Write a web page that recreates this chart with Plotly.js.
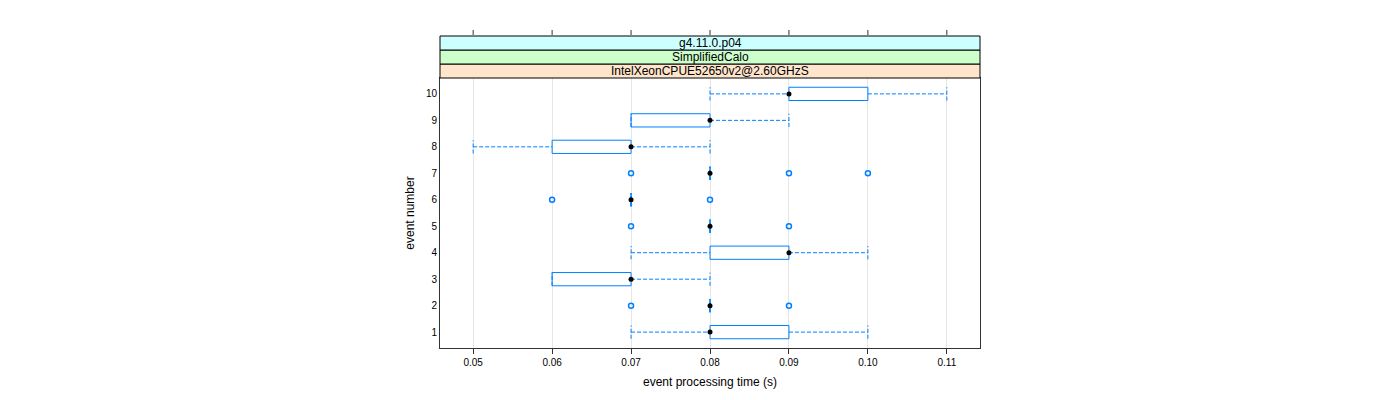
<!DOCTYPE html>
<html>
<head>
<meta charset="utf-8">
<script src="https://cdn.plot.ly/plotly-3.0.1.min.js"></script>
<style>html,body{margin:0;padding:0;background:#fff;}#chart{width:1400px;height:400px;}</style>
</head>
<body>
<div id="chart"></div>
<script>
// ---- data ----
const events   = [1, 2, 3, 4, 5, 6, 7, 8, 9, 10];
const lowWhisk = [0.07, 0.08, 0.06, 0.07, 0.08, 0.07, 0.08, 0.05, 0.07, 0.08];
const q1       = [0.08, 0.08, 0.06, 0.08, 0.08, 0.07, 0.08, 0.06, 0.07, 0.09];
const medians  = [0.08, 0.08, 0.07, 0.09, 0.08, 0.07, 0.08, 0.07, 0.08, 0.09];
const q3       = [0.09, 0.08, 0.07, 0.09, 0.08, 0.07, 0.08, 0.07, 0.08, 0.10];
const highWhisk= [0.10, 0.08, 0.08, 0.10, 0.08, 0.07, 0.08, 0.08, 0.09, 0.11];
const outlierEvent = [2, 2, 5, 5, 6, 6, 7, 7, 7];
const outlierTime  = [0.07, 0.09, 0.07, 0.09, 0.06, 0.08, 0.07, 0.09, 0.10];
const xTickVals = [0.05, 0.06, 0.07, 0.08, 0.09, 0.10, 0.11];
const xTickText = ['0.05', '0.06', '0.07', '0.08', '0.09', '0.10', '0.11'];
const stripLabels = ['IntelXeonCPUE52650v2@2.60GHzS', 'SimplifiedCalo', 'g4.11.0.p04'];
const stripColors = ['#ffe5cc', '#ccffcc', '#ccffff'];

// ---- build traces ----
const half = 0.25;
const blue = '#0080ff';
const FONT = 'Liberation Sans, Arial, Helvetica, sans-serif';

const wx = [], wy = [];
const bx = [], by = [];
events.forEach((e, i) => {
  // whisker lines
  if (lowWhisk[i] < q1[i]) { wx.push(lowWhisk[i], q1[i], null); wy.push(e, e, null); }
  if (highWhisk[i] > q3[i]) { wx.push(q3[i], highWhisk[i], null); wy.push(e, e, null); }
  // caps
  wx.push(lowWhisk[i], lowWhisk[i], null); wy.push(e - half, e + half, null);
  wx.push(highWhisk[i], highWhisk[i], null); wy.push(e - half, e + half, null);
  // box
  bx.push(q1[i], q3[i], q3[i], q1[i], q1[i], null);
  by.push(e - half, e - half, e + half, e + half, e - half, null);
});

const traces = [
  {type: 'scatter', mode: 'lines', x: wx, y: wy, line: {color: blue, width: 1, dash: '4px,2px'}, hoverinfo: 'skip', showlegend: false},
  {type: 'scatter', mode: 'lines', x: bx, y: by, line: {color: blue, width: 1}, hoverinfo: 'skip', showlegend: false},
  {type: 'scatter', mode: 'markers', x: outlierTime, y: outlierEvent,
   marker: {symbol: 'circle-open', size: 5, color: blue, line: {width: 1.5, color: blue}}, showlegend: false},
  {type: 'scatter', mode: 'markers', x: medians, y: events,
   marker: {symbol: 'circle', size: 5, color: '#000000'}, showlegend: false}
];

// ---- strips & top ticks ----
const plotH = 270;
const stripH = 14 / plotH;
const shapes = [];
const annotations = [];
stripLabels.forEach((lab, k) => {
  const y0 = 1 + k * stripH, y1 = 1 + (k + 1) * stripH;
  shapes.push({type: 'rect', xref: 'paper', yref: 'paper', x0: 0, x1: 1, y0: y0, y1: y1,
    fillcolor: stripColors[k], line: {color: '#000000', width: 1}, layer: 'above'});
  annotations.push({xref: 'paper', yref: 'paper', x: 0.5, y: (y0 + y1) / 2, text: lab, showarrow: false,
    font: {family: FONT, size: 12, color: '#000'}, xanchor: 'center', yanchor: 'middle'});
});
const topBase = 1 + 3 * stripH;
xTickVals.forEach(v => {
  shapes.push({type: 'line', xref: 'x', yref: 'paper', x0: v, x1: v, y0: topBase + 1 / plotH, y1: topBase + 6 / plotH,
    line: {color: '#333333', width: 1}});
});

const layout = {
  width: 1400, height: 400,
  margin: {l: 440, r: 420, t: 78, b: 52, pad: 0},
  paper_bgcolor: '#ffffff', plot_bgcolor: '#ffffff',
  font: {family: FONT, size: 10, color: '#000'},
  showlegend: false,
  xaxis: {
    range: [0.0458, 0.1142], tickmode: 'array', tickvals: xTickVals, ticktext: xTickText,
    ticks: 'outside', ticklen: 5, tickcolor: '#333333', tickwidth: 1,
    showgrid: true, gridcolor: '#e6e6e6', gridwidth: 1, zeroline: false,
    showline: true, mirror: true, linecolor: '#333333', linewidth: 1,
    tickfont: {family: FONT, size: 10, color: '#000'},
    title: {text: 'event processing time (s)', font: {family: FONT, size: 12, color: '#000'}, standoff: 10}
  },
  yaxis: {
    range: [0.4, 10.6], tickmode: 'array', tickvals: events, ticktext: events.map(String),
    ticks: '', showgrid: false, zeroline: false,
    showline: true, mirror: true, linecolor: '#333333', linewidth: 1,
    tickfont: {family: FONT, size: 10, color: '#000'},
    title: {text: 'event number', font: {family: FONT, size: 12, color: '#000'}, standoff: 8}
  },
  shapes: shapes,
  annotations: annotations
};

Plotly.newPlot('chart', traces, layout, {displayModeBar: false, staticPlot: true});
</script>
</body>
</html>
